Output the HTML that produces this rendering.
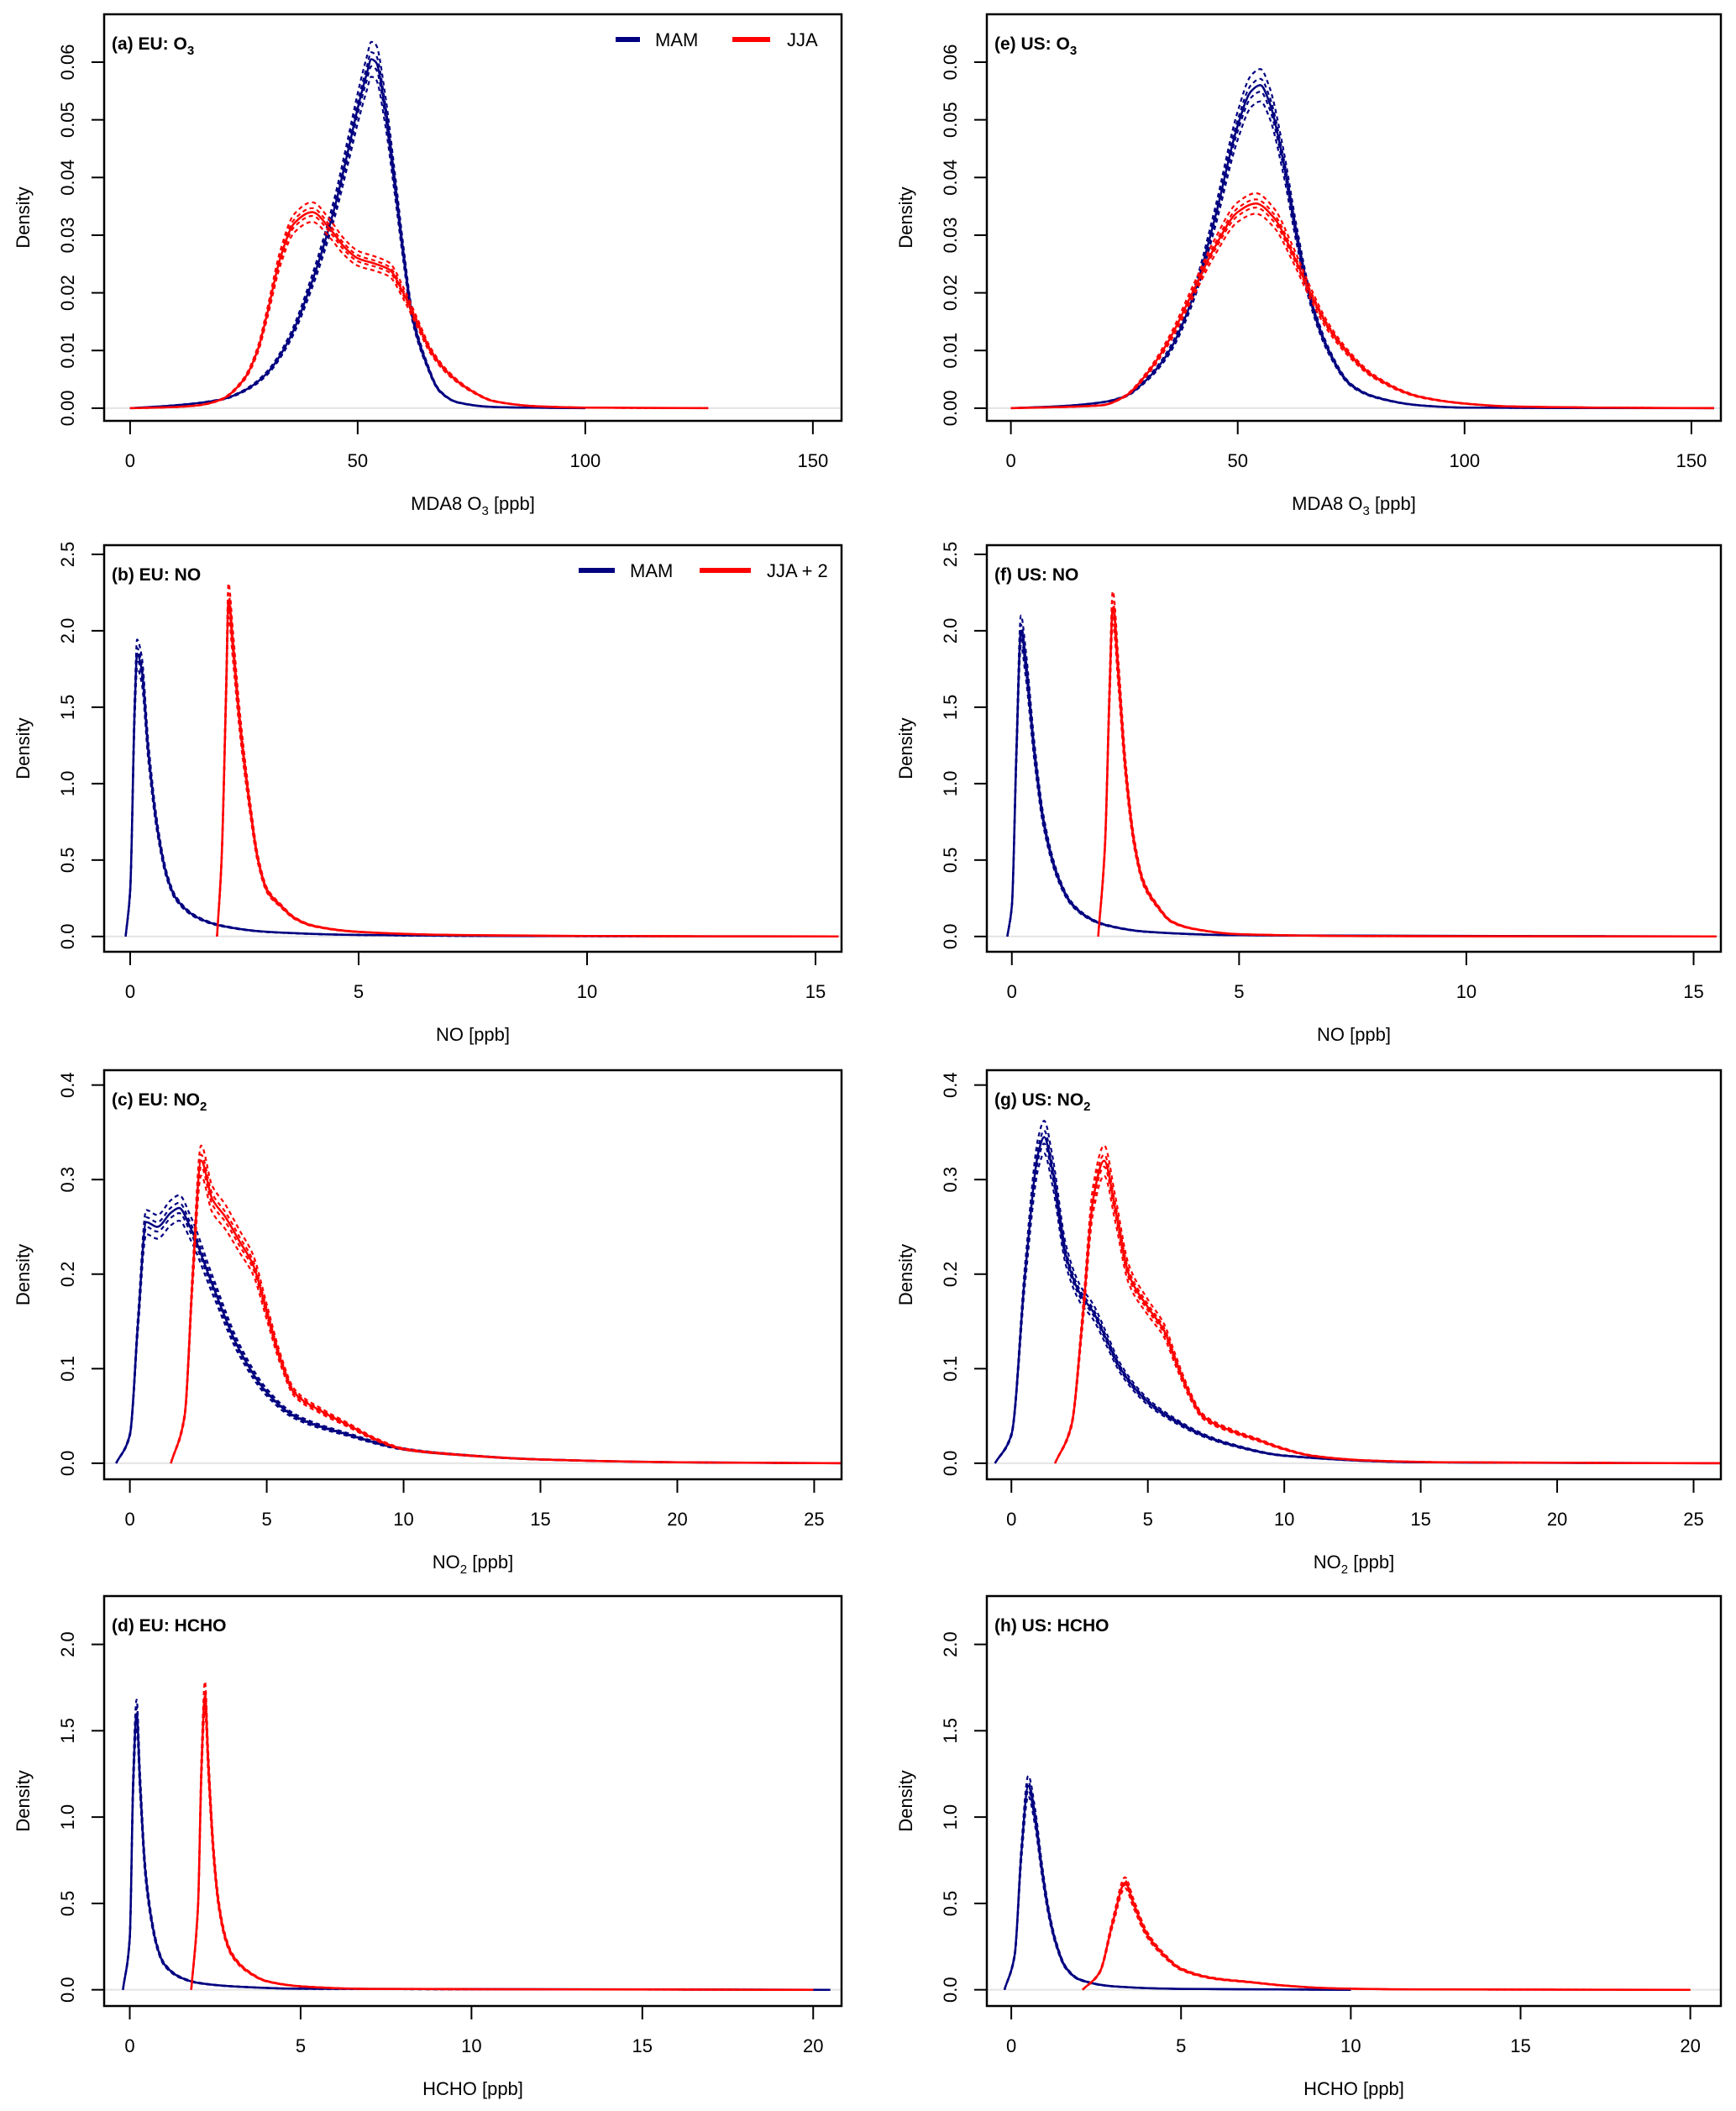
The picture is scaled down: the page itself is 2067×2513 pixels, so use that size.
<!DOCTYPE html>
<html><head><meta charset="utf-8">
<style>
html,body{margin:0;padding:0;background:#fff;}
svg{display:block;font-family:"Liberation Sans",Arial,sans-serif;}
</style></head>
<body>
<svg id="fig" width="2067" height="2513" viewBox="0 0 2067 2513" xmlns="http://www.w3.org/2000/svg"></svg>
<script>
// ---------- data (x, density) ----------
const euO3_mam_x = [0,10,20,25,30,35,40,45,48,50,52,53,54,56,58,60,62,65,68,72,80,100];
const euO3_mam_y = [0,0.0005,0.0015,0.003,0.006,0.012,0.022,0.035,0.045,0.052,0.058,0.0605,0.06,0.052,0.04,0.027,0.016,0.008,0.003,0.001,0.0002,0];
const euO3_jja_x = [0,10,15,20,25,28,30,33,36,40,44,47,50,54,57,60,63,66,70,75,80,90,100,127];
const euO3_jja_y = [0,0.0002,0.0005,0.0015,0.005,0.01,0.016,0.026,0.032,0.034,0.031,0.028,0.026,0.025,0.024,0.02,0.015,0.01,0.006,0.003,0.0012,0.0003,0.0001,0];
const usO3_mam_x = [0,10,20,25,30,35,40,45,50,53,55,57,60,63,66,70,75,80,90,100,155];
const usO3_mam_y = [0,0.0003,0.001,0.002,0.005,0.01,0.019,0.033,0.049,0.055,0.056,0.053,0.043,0.03,0.019,0.01,0.004,0.002,0.0005,0.0001,0];
const usO3_jja_x = [0,20,25,30,35,40,45,50,54,58,62,66,70,75,80,90,100,110,130,155];
const usO3_jja_y = [0,0.0005,0.002,0.006,0.012,0.02,0.028,0.034,0.0355,0.033,0.027,0.02,0.014,0.009,0.0055,0.002,0.0008,0.0003,0.0001,0];
const euNO_mam_x = [-0.1,0,0.1,0.15,0.25,0.4,0.6,0.8,1,1.5,2,3,5,8,15.5];
const euNO_mam_y = [0,0.3,1.5,1.85,1.75,1.2,0.7,0.4,0.25,0.12,0.07,0.03,0.01,0.003,0];
const euNO_jja_x = [1.9,2.0,2.1,2.15,2.25,2.4,2.6,2.8,3,3.3,3.6,4,5,7,10,15.5];
const euNO_jja_y = [0,0.5,1.6,2.2,1.9,1.4,0.9,0.5,0.3,0.2,0.12,0.07,0.03,0.01,0.003,0];
const usNO_mam_x = [-0.1,0,0.1,0.2,0.3,0.5,0.7,1,1.3,1.7,2,3,5,15.5];
const usNO_mam_y = [0,0.2,1.2,2.0,1.8,1.2,0.75,0.4,0.22,0.12,0.08,0.03,0.008,0];
const usNO_jja_x = [1.9,2.05,2.15,2.22,2.35,2.5,2.7,2.9,3.2,3.5,4,5,8,15.5];
const usNO_jja_y = [0,0.6,1.6,2.15,1.7,1.1,0.6,0.35,0.2,0.1,0.05,0.015,0.002,0];
const euNO2_mam_x = [-0.5,0,0.3,0.6,1.0,1.5,1.8,2.2,3,4,5,6,8,10,12,15,20,26];
const euNO2_mam_y = [0,0.03,0.15,0.255,0.25,0.265,0.27,0.25,0.19,0.12,0.075,0.05,0.03,0.015,0.009,0.004,0.001,0];
const euNO2_jja_x = [1.5,2.0,2.3,2.6,3.0,3.5,4.0,4.5,5,5.5,6,7,8,9,10,12,15,20,26];
const euNO2_jja_y = [0,0.05,0.2,0.32,0.28,0.26,0.235,0.21,0.16,0.11,0.075,0.055,0.04,0.025,0.015,0.009,0.004,0.001,0];
const usNO2_mam_x = [-0.6,0,0.5,1.0,1.2,1.5,2,2.5,3,3.5,4,5,6,7,8,10,15,26];
const usNO2_mam_y = [0,0.03,0.2,0.33,0.345,0.31,0.22,0.18,0.16,0.13,0.1,0.065,0.045,0.03,0.02,0.008,0.001,0];
const usNO2_jja_x = [1.6,2.2,2.6,3.0,3.4,3.8,4.3,5,5.6,6,6.5,7,8,9,10,11,13,16,26];
const usNO2_jja_y = [0,0.04,0.15,0.28,0.32,0.27,0.2,0.165,0.14,0.11,0.075,0.05,0.035,0.025,0.015,0.008,0.003,0.001,0];
const euHCHO_mam_x = [-0.2,0,0.1,0.2,0.3,0.45,0.6,0.8,1,1.5,2,3,5,20.5];
const euHCHO_mam_y = [0,0.3,1.2,1.6,1.2,0.7,0.45,0.25,0.15,0.07,0.04,0.02,0.006,0];
const euHCHO_jja_x = [1.8,2.0,2.1,2.2,2.3,2.45,2.6,2.8,3,3.5,4,5,7,20];
const euHCHO_jja_y = [0,0.5,1.3,1.7,1.3,0.8,0.5,0.3,0.2,0.1,0.05,0.02,0.005,0];
const usHCHO_mam_x = [-0.2,0.1,0.3,0.5,0.7,0.9,1.1,1.3,1.6,2,3,5,10];
const usHCHO_mam_y = [0,0.2,0.8,1.18,1.0,0.7,0.45,0.28,0.13,0.06,0.02,0.005,0];
const usHCHO_jja_x = [2.1,2.6,3.0,3.35,3.6,4,4.5,5,6,7,8,9,10,12,20];
const usHCHO_jja_y = [0,0.1,0.4,0.62,0.5,0.32,0.2,0.12,0.065,0.045,0.025,0.012,0.006,0.002,0];
// ensemble spread factors (dashed members)
const memberScale = [0.95, 0.98, 1.02, 1.05];

const xTicksO3 = [0,50,100,150];
const xTicksNO = [0,5,10,15];
const xTicksNO2 = [0,5,10,15,20,25];
const xTicksHCHO = [0,5,10,15,20];
const yTicksO3 = ["0.00","0.01","0.02","0.03","0.04","0.05","0.06"];
const yTicksNO = ["0.0","0.5","1.0","1.5","2.0","2.5"];
const yTicksNO2 = ["0.0","0.1","0.2","0.3","0.4"];
const yTicksHCHO = ["0.0","0.5","1.0","1.5","2.0"];

const svg = document.getElementById('fig');
const NS = 'http://www.w3.org/2000/svg';
function mk(tag, attrs, parent){
  const e = document.createElementNS(NS, tag);
  for (const k in attrs) e.setAttribute(k, attrs[k]);
  (parent||svg).appendChild(e);
  return e;
}

// monotone cubic path through screen points (rendering only)
function smoothPath(P){
  const n = P.length;
  if (n < 3) return P.map((p,i)=>(i?'L':'M')+p[0].toFixed(1)+','+p[1].toFixed(1)).join('');
  const dx=[], m=[], t=new Array(n);
  for (let i=0;i<n-1;i++){ dx[i]=P[i+1][0]-P[i][0]; m[i]=(P[i+1][1]-P[i][1])/dx[i]; }
  t[0]=m[0]; t[n-1]=m[n-2];
  for (let i=1;i<n-1;i++){ t[i] = (m[i-1]*m[i] <= 0) ? 0 : 3*(dx[i-1]+dx[i])/((2*dx[i]+dx[i-1])/m[i-1] + (dx[i]+2*dx[i-1])/m[i]); }
  let d='M'+P[0][0].toFixed(1)+','+P[0][1].toFixed(1);
  for (let i=0;i<n-1;i++){
    const h=dx[i]/3;
    d+='C'+(P[i][0]+h).toFixed(1)+','+(P[i][1]+t[i]*h).toFixed(1)+' '+(P[i+1][0]-h).toFixed(1)+','+(P[i+1][1]-t[i+1]*h).toFixed(1)+' '+P[i+1][0].toFixed(1)+','+P[i+1][1].toFixed(1);
  }
  return d;
}

const colL = [124, 1002], colR = [1175, 2049];
const rows = [[17,501],[649,1133],[1274,1761],[1900,2388]];

const panels = [
  {id:'a', col:colL, row:0, title:'(a) EU: O', sub:'3', xr:[-5.7,156.3], yr:[-0.0022,0.0683], xt:xTicksO3, yt:yTicksO3, xl:'MDA8 O', xls:'3', xle:' [ppb]', mam:[euO3_mam_x,euO3_mam_y], jja:[euO3_jja_x,euO3_jja_y], leg:'JJA'},
  {id:'e', col:colR, row:0, title:'(e) US: O', sub:'3', xr:[-5.3,156.5], yr:[-0.0022,0.0683], xt:xTicksO3, yt:yTicksO3, xl:'MDA8 O', xls:'3', xle:' [ppb]', mam:[usO3_mam_x,usO3_mam_y], jja:[usO3_jja_x,usO3_jja_y]},
  {id:'b', col:colL, row:1, title:'(b) EU: NO', sub:'', xr:[-0.57,15.57], yr:[-0.1,2.56], xt:xTicksNO, yt:yTicksNO, xl:'NO [ppb]', xls:'', xle:'', mam:[euNO_mam_x,euNO_mam_y], jja:[euNO_jja_x,euNO_jja_y], leg:'JJA + 2'},
  {id:'f', col:colR, row:1, title:'(f) US: NO', sub:'', xr:[-0.55,15.6], yr:[-0.1,2.56], xt:xTicksNO, yt:yTicksNO, xl:'NO [ppb]', xls:'', xle:'', mam:[usNO_mam_x,usNO_mam_y], jja:[usNO_jja_x,usNO_jja_y]},
  {id:'c', col:colL, row:2, title:'(c) EU: NO', sub:'2', xr:[-0.94,26.0], yr:[-0.017,0.4157], xt:xTicksNO2, yt:yTicksNO2, xl:'NO', xls:'2', xle:' [ppb]', mam:[euNO2_mam_x,euNO2_mam_y], jja:[euNO2_jja_x,euNO2_jja_y]},
  {id:'g', col:colR, row:2, title:'(g) US: NO', sub:'2', xr:[-0.9,26.0], yr:[-0.017,0.4157], xt:xTicksNO2, yt:yTicksNO2, xl:'NO', xls:'2', xle:' [ppb]', mam:[usNO2_mam_x,usNO2_mam_y], jja:[usNO2_jja_x,usNO2_jja_y]},
  {id:'d', col:colL, row:3, title:'(d) EU: HCHO', sub:'', xr:[-0.75,20.83], yr:[-0.094,2.28], xt:xTicksHCHO, yt:yTicksHCHO, xl:'HCHO [ppb]', xls:'', xle:'', mam:[euHCHO_mam_x,euHCHO_mam_y], jja:[euHCHO_jja_x,euHCHO_jja_y]},
  {id:'h', col:colR, row:3, title:'(h) US: HCHO', sub:'', xr:[-0.72,20.9], yr:[-0.094,2.28], xt:xTicksHCHO, yt:yTicksHCHO, xl:'HCHO [ppb]', xls:'', xle:'', mam:[usHCHO_mam_x,usHCHO_mam_y], jja:[usHCHO_jja_x,usHCHO_jja_y]}
];

const NAVY = '#000080', RED = '#ff0000';

panels.forEach(p => {
  const L = p.col[0], R = p.col[1], T = rows[p.row][0], B = rows[p.row][1];
  const sx = v => L + (v - p.xr[0]) / (p.xr[1] - p.xr[0]) * (R - L);
  const sy = v => B - (v - p.yr[0]) / (p.yr[1] - p.yr[0]) * (B - T);
  const g = mk('g', {});
  
  

  const clipId = 'clip' + p.id;
  const cp = mk('clipPath', {id: clipId}, g);
  mk('rect', {x:L, y:T, width:R-L, height:B-T}, cp);

  const zl = mk('line', {x1:L, x2:R, y1:sy(0), y2:sy(0), stroke:'#e4e4e4', 'stroke-width':2}, g);
  
  

  const curves = mk('g', {'clip-path':'url(#' + clipId + ')'}, g);
  function drawSeries(xs, ys, color, name){
    const sg = mk('g', {}, curves);
    
    
    memberScale.forEach(f => {
      const d = smoothPath(xs.map((x,i) => [sx(x), sy(ys[i]*f)]));
      const m = mk('path', {d, fill:'none', stroke:color, 'stroke-width':2.2, 'stroke-dasharray':'5 4'}, sg);
      
      
    });
    const d = smoothPath(xs.map((x,i) => [sx(x), sy(ys[i])]));
    const m = mk('path', {d, fill:'none', stroke:color, 'stroke-width':2.5}, sg);
    
    
  }
  drawSeries(p.mam[0], p.mam[1], NAVY, 'mam-curve');
  drawSeries(p.jja[0], p.jja[1], RED, 'jja-curve');

  const box = mk('rect', {x:L, y:T, width:R-L, height:B-T, fill:'none', stroke:'#000', 'stroke-width':2.5}, g);
  
  

  const xa = mk('g', {}, g);
  
  
  const x0 = sx(p.xt[0]), x1 = sx(p.xt[p.xt.length-1]);
  mk('line', {x1:x0, x2:x1, y1:B, y2:B, stroke:'#000', 'stroke-width':2}, xa);
  p.xt.forEach(v => {
    mk('line', {x1:sx(v), x2:sx(v), y1:B, y2:B+16, stroke:'#000', 'stroke-width':2}, xa);
    const t = mk('text', {x:sx(v), y:B+55, 'font-size':22, 'text-anchor':'middle'}, xa);
    t.textContent = v;
    
    
  });
  const xt = mk('text', {x:(L+R)/2, y:B+106, 'font-size':22, 'text-anchor':'middle'}, g);
  
  
  if (p.xls) {
    xt.appendChild(document.createTextNode(p.xl));
    const s = mk('tspan', {'font-size':15, dy:6}, xt); s.textContent = p.xls;
    const e = mk('tspan', {dy:-6}, xt); e.textContent = p.xle;
  } else xt.textContent = p.xl;

  const ya = mk('g', {}, g);
  
  
  const yv = p.yt.map(Number);
  mk('line', {x1:L, x2:L, y1:sy(yv[0]), y2:sy(yv[yv.length-1]), stroke:'#000', 'stroke-width':2}, ya);
  p.yt.forEach(lbl => {
    const y = sy(Number(lbl));
    mk('line', {x1:L-15, x2:L, y1:y, y2:y, stroke:'#000', 'stroke-width':2}, ya);
    const t = mk('text', {x:0, y:0, 'font-size':22, 'text-anchor':'middle', transform:'translate(' + (L-36) + ',' + y + ') rotate(-90)'}, ya);
    t.textContent = lbl;
    
    
  });
  const yt = mk('text', {x:0, y:0, 'font-size':22, 'text-anchor':'middle', transform:'translate(' + (L-89) + ',' + ((T+B)/2) + ') rotate(-90)'}, g);
  yt.textContent = 'Density';
  
  

  const tt = mk('text', {x:L+9, y:T+42, 'font-size':21, 'font-weight':'bold'}, g);
  
  
  tt.appendChild(document.createTextNode(p.title));
  if (p.sub) { const s = mk('tspan', {'font-size':15, dy:6}, tt); s.textContent = p.sub; }

  if (p.leg) {
    const lg = mk('g', {}, g);
    
    
    const ly = T + 30;
    let items;
    if (p.leg === 'JJA') items = [[733,762,780,'MAM',NAVY],[872,917,937,'JJA',RED]];
    else items = [[689,732,750,'MAM',NAVY],[833,894,913,'JJA + 2',RED]];
    items.forEach(it => {
      const e = mk('g', {}, lg);
      
      
      mk('line', {x1:it[0], x2:it[1], y1:ly, y2:ly, stroke:it[4], 'stroke-width':6}, e);
      const t = mk('text', {x:it[2], y:ly+8, 'font-size':22}, e);
      t.textContent = it[3];
    });
  }
});
</script>
</body></html>
